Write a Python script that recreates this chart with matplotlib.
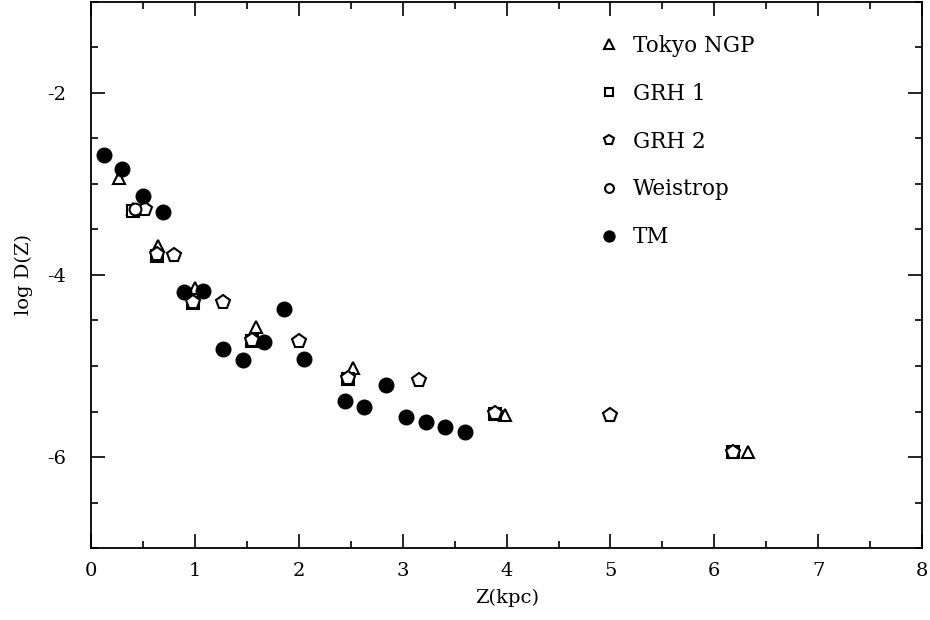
import matplotlib
matplotlib.use("Agg")
import matplotlib.pyplot as plt
from matplotlib.ticker import MultipleLocator

plt.rcParams['font.family'] = ['DejaVu Serif']
plt.rcParams['axes.unicode_minus'] = False

# Tokyo NGP (triangles)
tokyo_z = [0.27, 0.40, 0.64, 1.00, 1.59, 2.52, 3.98, 6.32]
tokyo_d = [-2.94, -3.27, -3.68, -4.14, -4.57, -5.02, -5.54, -5.95]

# GRH 1 (squares)
grh1_z = [0.40, 0.63, 0.98, 1.55, 2.47, 3.89, 6.18]
grh1_d = [-3.30, -3.79, -4.31, -4.72, -5.14, -5.53, -5.95]

# GRH 2 (pentagons)
grh2_z = [0.52, 0.63, 0.80, 0.98, 1.27, 1.55, 2.00, 2.47, 3.16, 3.89, 5.00, 6.18]
grh2_d = [-3.28, -3.77, -3.78, -4.30, -4.30, -4.71, -4.72, -5.13, -5.15, -5.52, -5.54, -5.94]

# Weistrop (open circles)
weis_z = [0.42]
weis_d = [-3.28]

# TM (filled circles)
tm_z = [0.12, 0.30, 0.50, 0.69, 0.89, 1.08, 1.27, 1.46, 1.66, 1.86, 2.05,
        2.44, 2.63, 2.84, 3.03, 3.22, 3.41, 3.60]
tm_d = [-2.68, -2.84, -3.13, -3.31, -4.19, -4.18, -4.81, -4.93, -4.74, -4.37, -4.92,
        -5.38, -5.45, -5.21, -5.56, -5.62, -5.67, -5.72]

fig = plt.figure(figsize=(9.3, 6.2), dpi=100)
ax = fig.add_axes([0.098, 0.116, 0.8935, 0.881])

open_kw = dict(linestyle='none', markerfacecolor='white', markeredgecolor='black',
               markeredgewidth=1.5)
ax.plot(tokyo_z, tokyo_d, marker='^', markersize=9, label='Tokyo NGP', **open_kw)
ax.plot(grh1_z, grh1_d, marker='s', markersize=8, label='GRH 1', **open_kw)
ax.plot(grh2_z, grh2_d, marker='p', markersize=10, label='GRH 2', **open_kw)
ax.plot(weis_z, weis_d, marker='o', markersize=8.5, label='Weistrop', **open_kw)
ax.plot(tm_z, tm_d, marker='o', markersize=10.5, linestyle='none', color='black',
        label='TM')

ax.set_xlim(0, 8)
ax.set_ylim(-7, -1)
ax.xaxis.set_major_locator(MultipleLocator(1))
ax.xaxis.set_minor_locator(MultipleLocator(0.5))
ax.yaxis.set_major_locator(MultipleLocator(2))
ax.yaxis.set_minor_locator(MultipleLocator(0.5))
ax.tick_params(which='both', direction='in', top=True, right=True,
               labelsize=14, width=1.2)
ax.tick_params(which='major', length=10)
ax.tick_params(which='minor', length=5)
ax.tick_params(axis='x', pad=10)
ax.tick_params(axis='y', pad=18)
for s in ax.spines.values():
    s.set_linewidth(1.3)

ax.set_xlabel('Z(kpc)', fontsize=14, labelpad=6)
ax.set_ylabel('log D(Z)', fontsize=14, labelpad=10)

leg = ax.legend(loc='upper left', bbox_to_anchor=(0.59, 0.975), frameon=False,
                fontsize=15.5, markerscale=0.75, handlelength=0.8,
                handletextpad=0.7, labelspacing=1.2)

fig.savefig('out.png', dpi=100)
